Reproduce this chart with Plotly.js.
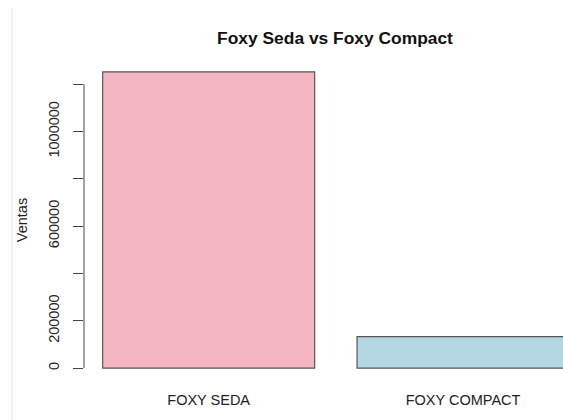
<!DOCTYPE html>
<html>
<head>
<meta charset="utf-8">
<script src="https://cdn.plot.ly/plotly-3.0.1.min.js"></script>
<style>
  html, body { margin: 0; padding: 0; background: #ffffff; }
  #chart { width: 563px; height: 420px; }
</style>
</head>
<body>
<div id="chart"></div>
<script>
const categories = ['FOXY SEDA', 'FOXY COMPACT'];
const ventas = [1252000, 133000];
const barColors = ['#f4b6c2', '#b3d8e3'];
const barPos = [0.7, 1.9];           // R barplot mid points (width 1, space 0.2)
const yTicks = [0, 200000, 400000, 600000, 800000, 1000000, 1200000];
const yTickText = ['0', '200000', '', '600000', '', '1000000', ''];

const font = 'Liberation Sans, Arial, Helvetica, sans-serif';

const trace = {
    type: 'bar',
    x: barPos,
    y: ventas,
    width: 1,
    marker: {
        color: barColors,
        line: { color: '#555555', width: 1.2 }
    },
    hoverinfo: 'skip'
};

const layout = {
    width: 563,
    height: 420,
    margin: { l: 84, r: 0, t: 60, b: 40 },
    paper_bgcolor: '#ffffff',
    plot_bgcolor: '#ffffff',
    showlegend: false,
    font: { family: font, size: 14.5, color: '#222222' },
    title: {
        text: 'Foxy Seda vs Foxy Compact',
        font: { family: font, size: 17.4, color: '#111111', weight: 'bold' },
        xref: 'container', x: 335 / 563, xanchor: 'center',
        yref: 'container', y: 1 - 38 / 420, yanchor: 'middle'
    },
    xaxis: {
        range: [0.112, 0.112 + 479 / 212],
        tickmode: 'array',
        tickvals: barPos,
        ticktext: categories,
        ticks: '',
        showline: false,
        showgrid: false,
        zeroline: false,
        ticklabelstandoff: 9,
        tickfont: { family: font, size: 14.5, color: '#222222' }
    },
    yaxis: {
        range: [-50080, 1302080],
        tickmode: 'array',
        tickvals: yTicks,
        ticktext: yTickText,
        tickangle: -90,
        ticks: 'outside',
        ticklen: 10,
        tickcolor: '#444444',
        tickwidth: 1,
        showline: false,
        showgrid: false,
        zeroline: false,
        ticklabelstandoff: 8,
        tickfont: { family: font, size: 14.5, color: '#222222' },
        title: {
            text: 'Ventas',
            font: { family: font, size: 14.5, color: '#222222' },
            standoff: 15
        },
        automargin: false
    },
    shapes: [
        // R style axis line, only from first to last tick
        {
            type: 'line', xref: 'paper', yref: 'y',
            x0: 0, x1: 0, y0: yTicks[0], y1: yTicks[yTicks.length - 1],
            line: { color: '#444444', width: 1 }
        },
        // faint border line on the left of the screenshot
        {
            type: 'line', xref: 'paper', yref: 'paper',
            x0: -72 / 479, x1: -72 / 479, y0: -40 / 320, y1: 1 + 52 / 320,
            line: { color: '#e4e4e4', width: 1 }
        }
    ]
};

Plotly.newPlot('chart', [trace], layout, { displayModeBar: false, staticPlot: true });
</script>
</body>
</html>
